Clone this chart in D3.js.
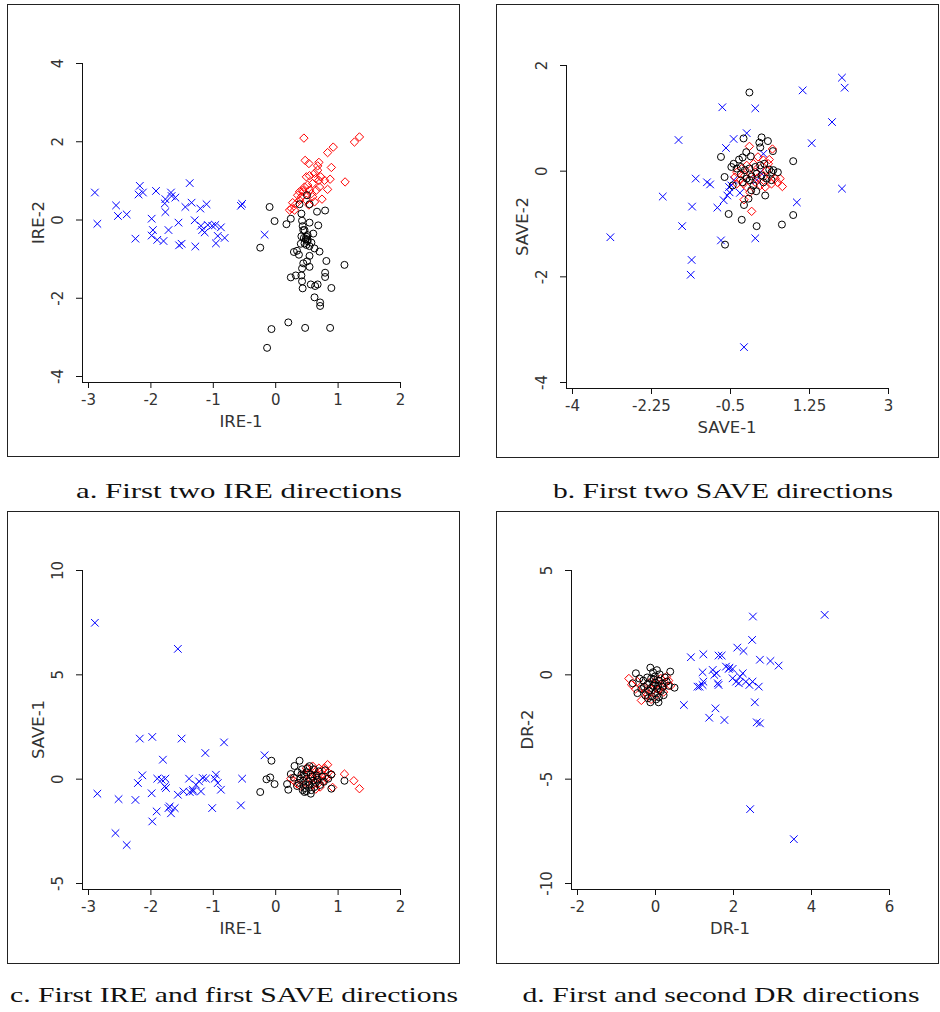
<!DOCTYPE html>
<html>
<head>
<meta charset="utf-8">
<script src="https://cdn.jsdelivr.net/npm/d3@7"></script>
<style>
  body { margin: 0; background: #fff; }
  svg { display: block; }
  .tick text { font-family: "DejaVu Sans", sans-serif; font-size: 15px; fill: #333; }
  .title { font-family: "DejaVu Sans", sans-serif; font-size: 16.5px; fill: #333; }
  .caption { font-family: "Liberation Serif", serif; font-size: 22px; fill: #111; }
</style>
</head>
<body>
<svg id="chart" width="940" height="1012"></svg>
<script>
// panel a: IRE-1 vs IRE-2
const aBlue = [[-2.89,0.69],[-2.85,-0.11],[-2.55,0.36],[-2.52,0.09],[-2.38,0.13],[-2.24,-0.49],[-2.19,0.64],[-2.17,0.86],[-2.12,0.69],[-1.98,0.02],[-1.96,-0.27],[-1.98,-0.41],[-1.91,0.73],[-1.89,-0.52],[-1.79,-0.55],[-1.77,0.41],[-1.76,0.19],[-1.76,0.52],[-1.71,-0.27],[-1.67,0.69],[-1.66,0.6],[-1.6,0.56],[-1.55,-0.08],[-1.54,-0.66],[-1.5,-0.62],[-1.44,0.32],[-1.37,0.93],[-1.34,0.43],[-1.29,-0.02],[-1.28,-0.69],[-1.2,0.28],[-1.19,-0.16],[-1.17,-0.27],[-1.13,-0.33],[-1.1,0.39],[-1.08,-0.14],[-1.01,-0.16],[-0.96,-0.14],[-0.95,-0.61],[-0.92,-0.42],[-0.87,-0.2],[-0.81,-0.47],[-0.55,0.35],[-0.53,0.4],[-0.17,-0.39]];
const aRed = [[0.46,2.08],[1.27,1.98],[1.35,2.11],[0.93,1.85],[0.84,1.71],[0.48,1.51],[0.54,1.43],[0.7,1.46],[0.68,1.37],[0.9,1.33],[1.12,0.96],[0.88,1.03],[0.84,0.77],[0.75,0.52],[0.7,1.0],[0.55,1.12],[0.5,1.09],[0.63,1.18],[0.68,1.26],[0.6,0.92],[0.52,0.88],[0.45,0.71],[0.42,0.58],[0.36,0.62],[0.28,0.43],[0.26,0.28],[0.23,0.24],[0.34,0.41],[0.39,0.49],[0.5,0.49],[0.58,0.66],[0.66,0.75],[0.71,0.83],[0.79,1.0],[0.47,0.83],[0.55,0.75],[0.6,0.58],[0.63,0.45],[0.54,0.37],[0.44,0.75],[0.39,0.71],[0.31,0.24],[0.73,1.09],[0.65,1.05]];
const aBlack = [[-0.09,0.32],[-0.01,-0.04],[-0.24,-0.72],[0.18,-0.12],[0.25,0.02],[0.51,0.62],[0.39,0.39],[0.55,0.39],[0.67,0.2],[0.8,0.23],[0.69,-0.15],[0.43,-0.03],[0.44,-0.17],[0.55,-0.08],[0.45,-0.27],[0.61,-0.36],[0.42,-0.43],[0.5,-0.44],[0.52,-0.51],[0.47,-0.61],[0.55,-0.68],[0.63,-0.74],[0.71,-0.82],[0.58,-0.59],[0.41,-0.62],[0.35,-0.8],[0.3,-0.83],[0.38,-0.9],[0.55,-0.93],[0.51,-1.07],[0.45,-1.12],[0.55,-1.21],[0.43,-1.25],[0.82,-1.06],[0.8,-1.36],[0.8,-1.47],[1.11,-1.16],[0.33,-1.43],[0.25,-1.48],[0.42,-1.43],[0.43,-1.58],[0.44,-1.76],[0.57,-1.66],[0.64,-1.7],[0.68,-1.66],[0.9,-1.75],[0.63,-1.99],[0.72,-2.12],[0.72,-2.21],[0.21,-2.63],[-0.06,-2.8],[0.48,-2.77],[0.88,-2.77],[-0.13,-3.28],[0.42,0.15],[0.47,-0.27],[0.52,-0.4],[0.49,-0.5],[0.52,-0.55],[0.46,-0.47],[0.5,-0.65]];

// panel b: SAVE-1 vs SAVE-2
const bBlue = [[-3.15,-1.26],[-1.99,-0.49],[-1.64,0.58],[-1.56,-1.05],[-1.34,-0.68],[-1.35,-1.69],[-1.37,-1.97],[-1.26,-0.15],[-1.01,-0.22],[-0.94,-0.26],[-0.78,-0.7],[-0.7,-1.32],[-0.67,1.2],[-0.64,-0.56],[-0.59,0.43],[-0.56,-0.47],[-0.51,-0.41],[-0.42,0.6],[-0.47,-0.28],[-0.42,-0.18],[-0.28,-0.42],[-0.19,-3.34],[-0.13,0.71],[0.06,1.18],[0.06,-1.28],[0.24,0.32],[0.17,-0.03],[0.09,-0.18],[0.98,-0.6],[1.11,1.52],[1.31,0.52],[1.76,0.92],[1.98,1.76],[2.04,1.57],[1.98,-0.34],[-0.52,-0.31]];
const bRed = [[-0.07,0.46],[0.44,0.41],[0.37,0.21],[0.12,0.26],[0.24,0.2],[0.02,0.13],[-0.13,0.1],[-0.24,0.04],[-0.35,-0.03],[-0.39,-0.12],[-0.28,-0.18],[-0.2,-0.25],[-0.06,-0.06],[0.06,-0.03],[0.17,0.04],[0.31,0.01],[0.39,-0.09],[0.5,-0.15],[0.61,-0.15],[0.66,-0.3],[0.55,-0.22],[0.42,-0.25],[0.28,-0.31],[0.17,-0.28],[0.06,-0.22],[-0.06,-0.41],[-0.19,-0.55],[-0.02,-0.77],[-0.35,-0.25],[0.24,-0.12],[0.09,-0.15],[-0.17,-0.09],[0.35,0.13],[-0.13,-0.31]];
const bBlack = [[-0.07,1.48],[-0.2,0.61],[0.2,0.63],[0.34,0.56],[0.15,0.53],[0.17,0.44],[0.45,0.37],[-0.7,0.26],[-0.14,0.35],[-0.04,0.27],[-0.22,0.25],[-0.3,0.21],[-0.42,0.13],[-0.47,0.07],[-0.35,0.04],[-0.26,0.07],[-0.17,0.01],[-0.07,0.04],[0.06,0.07],[0.17,0.1],[0.26,0.13],[0.37,0.02],[0.46,0.01],[0.56,-0.03],[0.42,-0.18],[0.31,-0.15],[0.2,-0.09],[0.09,-0.06],[-0.02,-0.11],[-0.13,-0.15],[-0.26,-0.07],[-0.62,-0.12],[-0.44,-0.28],[-0.22,-0.22],[-0.06,-0.18],[0.08,-0.39],[-0.09,-0.53],[-0.19,-0.65],[0.28,-0.47],[-0.53,-0.82],[-0.24,-0.93],[0.09,-1.05],[0.65,-1.02],[0.9,-0.84],[0.9,0.18],[-0.61,-1.4],[-0.03,-0.37],[0.24,-0.22],[0.42,-0.03],[0.02,-0.28]];

// panel c: IRE-1 vs SAVE-1
const cBlue = [[-2.89,7.47],[-1.56,6.22],[-2.85,-0.72],[-2.51,-0.98],[-2.56,-2.61],[-2.38,-3.18],[-2.24,-1.02],[-2.17,1.92],[-2.2,-0.21],[-2.13,0.16],[-1.97,2.0],[-1.98,-0.7],[-1.97,-2.05],[-1.9,-1.57],[-1.89,0.0],[-1.8,0.91],[-1.82,-0.05],[-1.77,-0.37],[-1.75,-0.45],[-1.76,0.0],[-1.71,-1.41],[-1.67,-1.66],[-1.61,-1.41],[-1.56,-0.77],[-1.5,1.92],[-1.47,-0.61],[-1.38,0.0],[-1.37,-0.64],[-1.32,-0.53],[-1.27,-0.29],[-1.22,-0.13],[-1.19,-0.61],[-1.16,0.03],[-1.12,1.23],[-1.11,0.0],[-1.01,-1.41],[-0.97,0.0],[-0.95,0.19],[-0.92,-0.21],[-0.87,-0.53],[-0.82,1.74],[-0.53,0.0],[-0.55,-1.28],[-0.17,1.12],[-1.32,-0.61],[-1.69,-1.33]];
const cRed = [[1.11,0.22],[1.26,-0.1],[1.35,-0.48],[0.92,-0.42],[0.84,0.67],[0.79,0.51],[0.5,0.5],[0.55,0.3],[0.6,0.6],[0.65,0.2],[0.7,-0.2],[0.75,0.4],[0.8,0.1],[0.85,0.3],[0.9,0.2],[0.6,-0.3],[0.55,0.0],[0.45,0.2],[0.3,-0.1],[0.25,0.0],[0.65,-0.5],[0.7,0.5],[0.58,0.1],[0.68,0.05],[0.72,-0.4],[0.62,0.4],[0.78,-0.1],[0.82,0.0],[0.5,-0.2],[0.4,-0.35],[0.35,-0.25]];
const cBlack = [[-0.06,0.86],[-0.24,-0.64],[-0.14,-0.03],[-0.08,0.06],[-0.01,-0.26],[0.19,-0.26],[0.21,-0.53],[0.25,0.22],[0.31,0.61],[0.39,0.86],[1.11,-0.1],[0.9,-0.48],[0.47,-0.64],[0.57,-0.72],[0.42,0.2],[0.45,-0.1],[0.5,0.3],[0.55,-0.3],[0.48,-0.45],[0.6,0.1],[0.65,-0.2],[0.7,0.35],[0.75,0.1],[0.8,0.4],[0.85,0.0],[0.38,-0.2],[0.35,-0.35],[0.3,0.05],[0.52,0.5],[0.58,-0.55],[0.44,-0.55],[0.62,0.45],[0.68,-0.05],[0.72,-0.3],[0.4,0.0],[0.47,0.1],[0.53,-0.15],[0.57,0.2],[0.5,-0.6],[0.63,-0.4],[0.78,-0.15],[0.9,0.2],[0.43,0.45],[0.36,0.3],[0.55,0.6],[0.66,0.15],[0.49,-0.3],[0.61,-0.1]];

// panel d: DR-1 vs DR-2
const dBlue = [[2.51,2.77],[4.35,2.85],[2.49,1.65],[2.11,1.28],[2.27,1.12],[0.92,0.82],[1.24,0.96],[1.63,0.9],[1.71,0.9],[2.69,0.7],[2.96,0.64],[3.17,0.42],[1.82,0.37],[1.89,0.26],[1.99,0.26],[1.48,0.21],[1.58,0.05],[1.22,0.1],[2.25,0.05],[2.18,-0.11],[1.99,-0.19],[2.08,-0.35],[2.33,-0.35],[2.5,-0.35],[2.66,-0.59],[1.14,-0.59],[1.22,-0.51],[1.24,-0.35],[1.63,-0.51],[1.61,-0.43],[0.74,-1.47],[1.55,-1.63],[1.39,-2.08],[1.78,-2.19],[2.56,-1.34],[2.61,-2.3],[2.69,-2.35],[2.44,-6.46],[3.56,-7.9],[1.09,-0.59],[2.42,-0.51],[2.15,-0.43],[1.52,-0.03],[1.91,0.32]];
const dRed = [[-0.67,-0.2],[-0.6,-0.5],[-0.45,-0.35],[-0.3,-0.65],[-0.2,-1.0],[-0.1,-1.2],[0.05,-0.95],[0.1,-0.75],[0.2,-0.6],[0.25,-0.4],[0.3,-0.1],[0.15,-0.2],[-0.35,-1.25],[-0.25,-0.85],[0.35,-0.3],[-0.5,-0.7],[0.0,-0.5],[-0.15,-0.4],[0.05,-0.25],[-0.05,-0.75],[0.22,-0.85],[0.4,-0.55]];
const dBlack = [[-0.49,0.05],[0.39,0.13],[0.5,-0.64],[-0.12,0.32],[0.09,-1.34],[-0.12,-1.34],[-0.57,-0.43],[-0.3,-0.3],[-0.2,-0.5],[-0.1,-0.2],[0,-0.1],[0.1,-0.3],[0.2,-0.6],[0.3,-0.35],[-0.05,0.1],[0.05,0.2],[-0.15,-0.8],[0,-0.9],[0.1,-1.1],[-0.25,-1.0],[-0.35,-0.7],[0.15,-0.8],[0.25,-0.15],[-0.05,-0.55],[0.0,-0.4],[-0.1,-0.65],[0.05,-0.7],[-0.2,-0.15],[0.35,-0.55],[-0.4,-0.2],[0.12,0.0],[-0.08,-1.05],[0.03,-1.2],[-0.18,-1.15],[0.18,-0.45],[-0.28,-0.6],[0.08,-0.55],[-0.03,-0.25],[0.22,-1.0],[-0.45,-0.9]];

// tick values
const aXTicks = [-3, -2, -1, 0, 1, 2];
const aYTicks = [-4, -2, 0, 2, 4];
const bXTicks = [-4, -2.25, -0.5, 1.25, 3];
const bYTicks = [-4, -2, 0, 2];
const cXTicks = [-3, -2, -1, 0, 1, 2];
const cYTicks = [-5, 0, 5, 10];
const dXTicks = [-2, 0, 2, 4, 6];
const dYTicks = [-10, -5, 0, 5];

const panels = [
    { frame: [7, 4, 459, 456], plot: [82, 63, 400, 382], xDom: [-3, 2], yDom: [-4, 4],
      xTicks: aXTicks, yTicks: aYTicks, xTitle: 'IRE-1', yTitle: 'IRE-2',
      caption: 'a. First two IRE directions', capX: 239, capY: 498, capW: 326,
      blue: aBlue, red: aRed, black: aBlack },
    { frame: [496, 4, 938, 457], plot: [566, 65, 888, 388], xDom: [-4, 3], yDom: [-4, 2],
      xTicks: bXTicks, yTicks: bYTicks, xTitle: 'SAVE-1', yTitle: 'SAVE-2',
      caption: 'b. First two SAVE directions', capX: 723, capY: 498, capW: 340,
      blue: bBlue, red: bRed, black: bBlack },
    { frame: [7, 511, 459, 963], plot: [82, 570, 400, 889], xDom: [-3, 2], yDom: [-5, 10],
      xTicks: cXTicks, yTicks: cYTicks, xTitle: 'IRE-1', yTitle: 'SAVE-1',
      caption: 'c. First IRE and first SAVE directions', capX: 234, capY: 1002, capW: 448,
      blue: cBlue, red: cRed, black: cBlack },
    { frame: [496, 511, 938, 963], plot: [571, 570, 889, 889], xDom: [-2, 6], yDom: [-10, 5],
      xTicks: dXTicks, yTicks: dYTicks, xTitle: 'DR-1', yTitle: 'DR-2',
      caption: 'd. First and second DR directions', capX: 721, capY: 1002, capW: 397,
      blue: dBlue, red: dRed, black: dBlack }
];

const svg = d3.select('#chart');
svg.append('rect').attr('width', 940).attr('height', 1012).attr('fill', '#fff');

function drawPanel(p) {
    const [left, top, right, bottom] = p.plot;
    const g = svg.append('g');

    // outer frame
    g.append('rect')
        .attr('x', p.frame[0] + 0.5).attr('y', p.frame[1] + 0.5)
        .attr('width', p.frame[2] - p.frame[0]).attr('height', p.frame[3] - p.frame[1])
        .attr('fill', 'none').attr('stroke', '#222').attr('stroke-width', 1);

    const x = d3.scaleLinear().domain(p.xDom).range([left + 6, right]);
    const y = d3.scaleLinear().domain(p.yDom).range([bottom - 6, top]);

    // axes (R style, L shaped)
    const xAxis = g.append('g')
        .attr('transform', `translate(0,${bottom})`)
        .call(d3.axisBottom(x).tickValues(p.xTicks).tickFormat(d => String(d))
            .tickSize(6).tickSizeOuter(0).tickPadding(6));
    xAxis.select('.domain').remove();
    xAxis.selectAll('.tick line').attr('stroke', '#111');

    const yAxis = g.append('g')
        .attr('transform', `translate(${left},0)`)
        .call(d3.axisLeft(y).tickValues(p.yTicks).tickFormat(d => String(d))
            .tickSize(6).tickSizeOuter(0));
    yAxis.select('.domain').remove();
    yAxis.selectAll('.tick line').attr('stroke', '#111');
    yAxis.selectAll('.tick text')
        .attr('transform', 'rotate(-90)')
        .attr('x', 0).attr('y', -19).attr('dy', 0)
        .attr('text-anchor', 'middle');

    g.append('line')
        .attr('x1', left + 0.5).attr('x2', left + 0.5)
        .attr('y1', top).attr('y2', bottom + 0.5)
        .attr('stroke', '#111');
    g.append('line')
        .attr('x1', left).attr('x2', right + 0.5)
        .attr('y1', bottom + 0.5).attr('y2', bottom + 0.5)
        .attr('stroke', '#111');

    // axis titles
    g.append('text').attr('class', 'title')
        .attr('x', (left + right) / 2).attr('y', bottom + 45)
        .attr('text-anchor', 'middle')
        .text(p.xTitle);
    g.append('text').attr('class', 'title')
        .attr('transform', `translate(${left - 38},${(top + bottom) / 2}) rotate(-90)`)
        .attr('text-anchor', 'middle')
        .text(p.yTitle);

    // blue crosses
    const s = 3.8;
    g.append('g').selectAll('path')
        .data(p.blue).enter().append('path')
        .attr('d', d => {
            const cx = x(d[0]), cy = y(d[1]);
            return `M${cx - s},${cy - s}L${cx + s},${cy + s}M${cx - s},${cy + s}L${cx + s},${cy - s}`;
        })
        .attr('stroke', '#0000ff').attr('stroke-width', 1).attr('fill', 'none');

    // red diamonds
    const r = 4.2;
    g.append('g').selectAll('path')
        .data(p.red).enter().append('path')
        .attr('d', d => {
            const cx = x(d[0]), cy = y(d[1]);
            return `M${cx},${cy - r}L${cx + r},${cy}L${cx},${cy + r}L${cx - r},${cy}Z`;
        })
        .attr('stroke', '#ff0000').attr('stroke-width', 1).attr('fill', 'none');

    // black circles
    g.append('g').selectAll('circle')
        .data(p.black).enter().append('circle')
        .attr('cx', d => x(d[0])).attr('cy', d => y(d[1]))
        .attr('r', 3.5)
        .attr('stroke', '#000').attr('stroke-width', 1).attr('fill', 'none');

    // caption
    svg.append('text').attr('class', 'caption')
        .attr('x', p.capX).attr('y', p.capY)
        .attr('text-anchor', 'middle')
        .attr('textLength', p.capW).attr('lengthAdjust', 'spacingAndGlyphs')
        .text(p.caption);
}

panels.forEach(drawPanel);
</script>
</body>
</html>
